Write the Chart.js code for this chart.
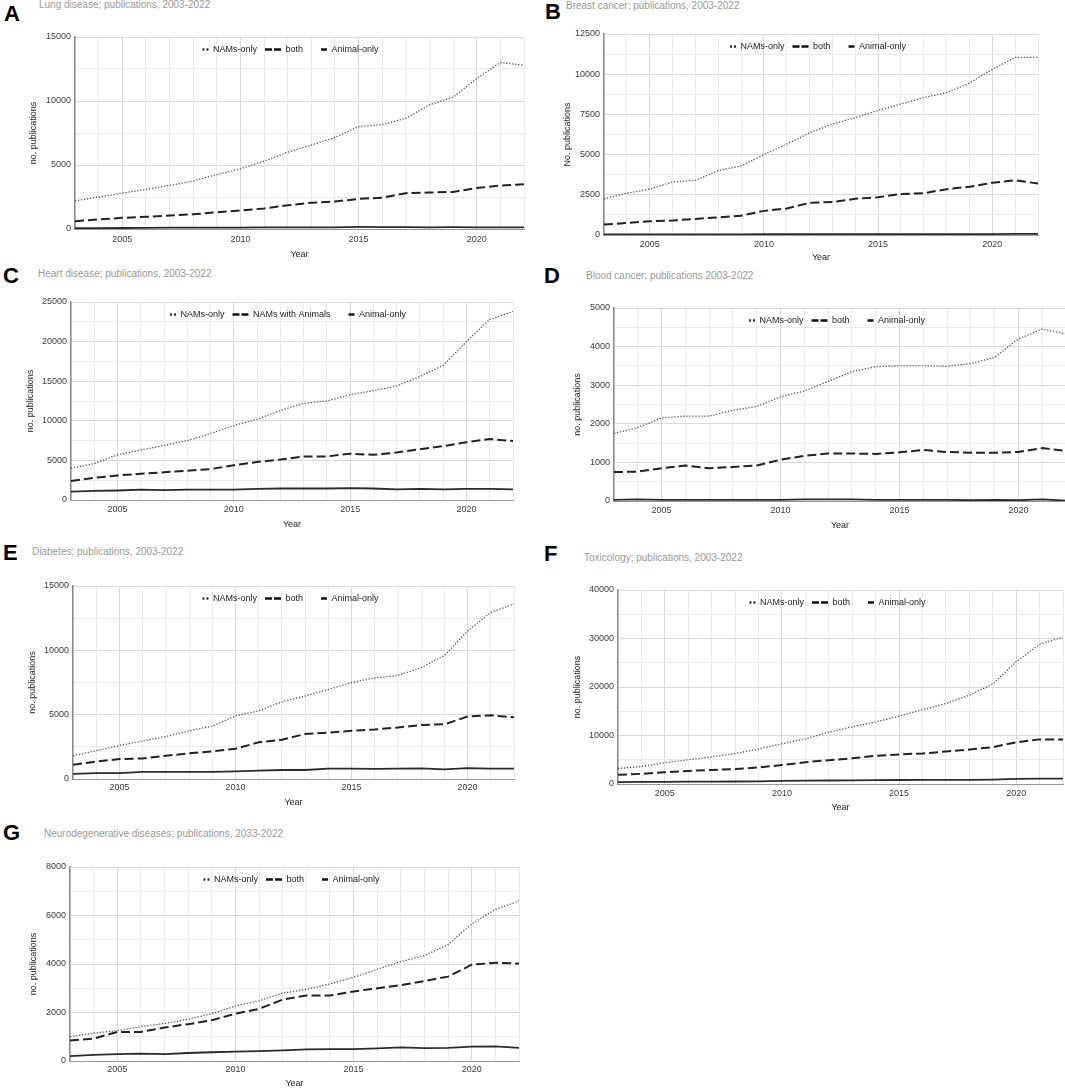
<!DOCTYPE html>
<html>
<head>
<meta charset="utf-8">
<script src="https://cdn.jsdelivr.net/npm/chart.js@4.4.1/dist/chart.umd.min.js"></script>
<style>
  html, body { margin: 0; padding: 0; background: #fff; overflow: hidden; }
  body { width: 1065px; height: 1088px; position: relative; font-family: Arial, "Liberation Sans", sans-serif; }
  .letter { position: absolute; font-size: 22px; font-weight: bold; line-height: 22px; color: #000; }
  .title { position: absolute; font-size: 10px; line-height: 12px; color: #999; white-space: nowrap; }
  canvas { position: absolute; }
</style>
</head>
<body>
<script>
// Years on the x axis
const years = [2003, 2004, 2005, 2006, 2007, 2008, 2009, 2010, 2011, 2012,
               2013, 2014, 2015, 2016, 2017, 2018, 2019, 2020, 2021, 2022];

const seriesNames = ['NAMs-only', 'both', 'Animal-only'];
const heartSeriesNames = ['NAMs-only', 'NAMs with Animals', 'Animal-only'];

// A - Lung disease
const lungNams   = [2200, 2500, 2800, 3100, 3400, 3750, 4250, 4700, 5300, 6000, 6550, 7150, 8000, 8150, 8650, 9700, 10300, 11750, 13000, 12800];
const lungBoth   = [600, 750, 870, 950, 1050, 1150, 1300, 1450, 1600, 1850, 2050, 2150, 2350, 2450, 2800, 2850, 2900, 3200, 3400, 3500];
const lungAnimal = [60, 70, 80, 90, 100, 100, 110, 110, 120, 120, 130, 130, 160, 150, 140, 130, 140, 130, 120, 120];
const lungTicks  = [0, 5000, 10000, 15000];

// B - Breast cancer
const breastNams   = [2250, 2600, 2850, 3300, 3400, 4000, 4300, 5000, 5650, 6350, 6900, 7300, 7750, 8150, 8550, 8850, 9450, 10300, 11050, 11050];
const breastBoth   = [650, 750, 850, 900, 1000, 1100, 1200, 1500, 1650, 2000, 2050, 2250, 2350, 2550, 2600, 2850, 3000, 3250, 3400, 3200];
const breastAnimal = [40, 40, 40, 40, 40, 40, 40, 50, 50, 50, 50, 50, 50, 60, 60, 60, 60, 60, 70, 70];
const breastTicks  = [0, 2500, 5000, 7500, 10000, 12500];

// C - Heart disease
const heartNams   = [4000, 4600, 5700, 6300, 6900, 7500, 8400, 9400, 10200, 11300, 12200, 12500, 13300, 13800, 14400, 15600, 17000, 20000, 22800, 23800];
const heartBoth   = [2400, 2800, 3100, 3300, 3500, 3700, 3900, 4400, 4800, 5100, 5500, 5500, 5850, 5700, 6000, 6400, 6800, 7300, 7700, 7450];
const heartAnimal = [1050, 1150, 1200, 1300, 1250, 1300, 1300, 1300, 1400, 1450, 1450, 1450, 1500, 1450, 1350, 1400, 1350, 1400, 1400, 1350];
const heartTicks  = [0, 5000, 10000, 15000, 20000, 25000];

// D - Blood cancer
const bloodNams   = [1750, 1900, 2150, 2200, 2200, 2350, 2450, 2700, 2850, 3100, 3350, 3480, 3500, 3500, 3490, 3560, 3720, 4200, 4450, 4330];
const bloodBoth   = [750, 760, 850, 920, 850, 880, 920, 1070, 1170, 1230, 1230, 1220, 1260, 1320, 1270, 1250, 1250, 1270, 1370, 1300];
const bloodAnimal = [30, 40, 30, 30, 30, 30, 30, 30, 40, 40, 40, 30, 30, 30, 30, 20, 30, 20, 40, 10];
const bloodTicks  = [0, 1000, 2000, 3000, 4000, 5000];

// E - Diabetes
const diabetesNams   = [1800, 2200, 2600, 2950, 3300, 3750, 4100, 4900, 5300, 6000, 6450, 6950, 7500, 7850, 8050, 8650, 9600, 11500, 12950, 13600];
const diabetesBoth   = [1100, 1350, 1550, 1600, 1800, 2000, 2150, 2350, 2850, 3050, 3500, 3600, 3750, 3850, 4000, 4200, 4250, 4850, 4950, 4800];
const diabetesAnimal = [400, 450, 450, 550, 550, 550, 550, 600, 650, 700, 700, 800, 800, 780, 800, 820, 750, 850, 800, 800];
const diabetesTicks  = [0, 5000, 10000, 15000];

// F - Toxicology
const toxNams   = [3200, 3600, 4400, 5000, 5600, 6300, 7200, 8300, 9300, 10700, 11800, 12800, 14000, 15300, 16600, 18300, 20600, 25200, 28800, 30300];
const toxBoth   = [1900, 2100, 2400, 2700, 2900, 3100, 3400, 3900, 4500, 4900, 5300, 5800, 6100, 6300, 6700, 7100, 7600, 8600, 9200, 9200];
const toxAnimal = [400, 430, 450, 480, 500, 520, 550, 650, 680, 720, 760, 800, 820, 830, 850, 850, 900, 1050, 1100, 1100];
const toxTicks  = [0, 10000, 20000, 30000, 40000];

// G - Neurodegenerative diseases
const neuroNams   = [1000, 1150, 1250, 1420, 1550, 1720, 1950, 2270, 2480, 2800, 2950, 3180, 3450, 3780, 4100, 4350, 4800, 5650, 6250, 6600];
const neuroBoth   = [850, 920, 1200, 1200, 1380, 1520, 1680, 1950, 2150, 2530, 2700, 2700, 2870, 3000, 3130, 3300, 3480, 3970, 4050, 4020];
const neuroAnimal = [200, 250, 280, 300, 280, 330, 360, 390, 410, 440, 480, 490, 490, 520, 560, 530, 540, 590, 600, 540];
const neuroTicks  = [0, 2000, 4000, 6000, 8000];

Chart.defaults.font.family = 'Arial, "Liberation Sans", sans-serif';
Chart.defaults.animation = false;

// Line look per series (dotted / dashed / solid)
const lineStyles = [
    { borderColor: '#555', borderWidth: 1.3, borderDash: [1.3, 1.7] },
    { borderColor: '#222', borderWidth: 2, borderDash: [9, 4] },
    { borderColor: '#2a2a2a', borderWidth: 1.8, borderDash: [] }
];
// Small legend marks: two dots, two dashes, one short dash
const legendMarks = [
    { lineDash: [2, 2, 2, 10], lineDashOffset: 6, lineWidth: 2.5, strokeStyle: '#333' },
    { lineDash: [7, 2], lineDashOffset: 0, lineWidth: 2.5, strokeStyle: '#111' },
    { lineDash: [6, 10], lineDashOffset: 6, lineWidth: 2.5, strokeStyle: '#111' }
];

// Legend sits inside the plot, in one row near the top centre
const rowLegendInside = {
    id: 'rowLegendInside',
    afterInit(chart) {
        if (chart.legend) chart.legend.isHorizontal = () => true;
    },
    afterLayout(chart, args, opts) {
        const lg = chart.legend;
        if (!lg) return;
        const shift = opts.shift || 0;
        lg.left = chart.chartArea.left;
        lg.right = chart.chartArea.right + 2 * shift;
        lg.top = chart.chartArea.top;
    }
};

const panels = [
    { letter: 'A', letterPos: [4, 6], title: 'Lung disease; publications, 2003-2022', titlePos: [39, 4.5],
      yTitle: 'no. publications', yTitleX: 34, plot: [75, 37, 525, 229], labelY: 239, yearY: 255, legendShift: -14,
      names: seriesNames, series: [lungNams, lungBoth, lungAnimal], ticks: lungTicks },
    { letter: 'B', letterPos: [545, 4], title: 'Breast cancer; publications, 2003-2022', titlePos: [566, 6],
      yTitle: 'No. publications', yTitleX: 568, plot: [604, 34, 1038, 235], labelY: 244, yearY: 258, legendShift: -8,
      names: seriesNames, series: [breastNams, breastBoth, breastAnimal], ticks: breastTicks },
    { letter: 'C', letterPos: [3, 268], title: 'Heart disease; publications, 2003-2022', titlePos: [38, 274],
      yTitle: 'no. publications', yTitleX: 31, plot: [71, 302, 513, 500], labelY: 509, yearY: 525, legendShift: -9,
      names: heartSeriesNames, series: [heartNams, heartBoth, heartAnimal], ticks: heartTicks },
    { letter: 'D', letterPos: [544, 268], title: 'Blood cancer; publications 2003-2022', titlePos: [586, 276],
      yTitle: 'no. publications', yTitleX: 578, plot: [614, 308, 1066, 501], labelY: 510, yearY: 526, legendShift: -8,
      names: seriesNames, series: [bloodNams, bloodBoth, bloodAnimal], ticks: bloodTicks },
    { letter: 'E', letterPos: [3, 545], title: 'Diabetes; publications, 2003-2022', titlePos: [32, 552],
      yTitle: 'no. publications', yTitleX: 33, plot: [73, 586, 514, 779], labelY: 787, yearY: 803, legendShift: -8,
      names: seriesNames, series: [diabetesNams, diabetesBoth, diabetesAnimal], ticks: diabetesTicks },
    { letter: 'F', letterPos: [544, 546], title: 'Toxicology; publications, 2003-2022', titlePos: [584, 558],
      yTitle: 'no. publications', yTitleX: 578, plot: [618, 590, 1063, 784], labelY: 793, yearY: 808, legendShift: -8,
      names: seriesNames, series: [toxNams, toxBoth, toxAnimal], ticks: toxTicks },
    { letter: 'G', letterPos: [3, 825], title: 'Neurodegenerative diseases; publications, 2033-2022', titlePos: [44, 834],
      yTitle: 'no. publications', yTitleX: 34, plot: [70, 867, 519, 1061], labelY: 1069, yearY: 1084, legendShift: -8,
      names: seriesNames, series: [neuroNams, neuroBoth, neuroAnimal], ticks: neuroTicks }
];

function addText(cls, text, x, y) {
    const el = document.createElement('div');
    el.className = cls;
    el.textContent = text;
    el.style.left = x + 'px';
    el.style.top = y + 'px';
    document.body.appendChild(el);
}

function makePanel(p) {
    addText('letter', p.letter, p.letterPos[0], p.letterPos[1] - 3);
    addText('title', p.title, p.titlePos[0], p.titlePos[1] - 6);

    const [pl, pt, pr, pb] = p.plot;
    const cl = Math.round(p.yTitleX - 8);
    const ct = Math.round(pt - 10);
    const cr = Math.round(pr + 4);
    const cb = Math.round(p.yearY + 8);
    const yw = pl - cl;
    const xh = cb - pb;

    const canvas = document.createElement('canvas');
    canvas.width = cr - cl;
    canvas.height = cb - ct;
    canvas.style.left = cl + 'px';
    canvas.style.top = ct + 'px';
    document.body.appendChild(canvas);

    const major = p.ticks[1] - p.ticks[0];
    const ymax = p.ticks[p.ticks.length - 1];

    new Chart(canvas, {
        type: 'line',
        data: {
            labels: years,
            datasets: p.series.map((vals, i) => ({
                label: p.names[i],
                data: vals,
                ...lineStyles[i],
                borderCapStyle: 'butt',
                pointRadius: 0,
                pointHoverRadius: 0,
                tension: 0,
                fill: false
            }))
        },
        plugins: [rowLegendInside],
        options: {
            responsive: false,
            layout: { padding: { top: pt - ct, right: cr - pr, left: 0, bottom: 0 } },
            plugins: {
                tooltip: { enabled: false },
                rowLegendInside: { shift: p.legendShift },
                legend: {
                    position: 'chartArea',
                    align: 'center',
                    labels: {
                        usePointStyle: true,
                        pointStyleWidth: 16,
                        padding: 8,
                        color: '#222',
                        font: { size: 9 },
                        generateLabels(chart) {
                            const items = Chart.defaults.plugins.legend.labels.generateLabels(chart);
                            items.forEach((it, i) => {
                                Object.assign(it, legendMarks[i]);
                                it.pointStyle = 'line';
                                it.fillStyle = 'transparent';
                            });
                            return items;
                        }
                    }
                }
            },
            scales: {
                x: {
                    type: 'category',
                    offset: false,
                    grid: {
                        drawTicks: false,
                        color: c => (years[c.index] % 5 === 0 ? '#d8d8d8' : '#eaeaea')
                    },
                    border: { color: '#9a9a9a', width: 1 },
                    ticks: {
                        autoSkip: false,
                        maxRotation: 0,
                        padding: p.labelY - pb - 5,
                        color: '#3a3a3a',
                        font: { size: 9 },
                        callback(v) {
                            const yr = this.getLabelForValue(v);
                            return yr % 5 === 0 ? String(yr) : '';
                        }
                    },
                    title: { display: true, text: 'Year', color: '#222', font: { size: 9 }, padding: { top: 0, bottom: 2.6 } },
                    afterFit: s => { s.height = xh; }
                },
                y: {
                    min: 0,
                    max: ymax,
                    grid: {
                        drawTicks: false,
                        color: c => (c.tick && c.tick.value % major === 0 ? '#d8d8d8' : '#eaeaea')
                    },
                    border: { color: '#8a8a8a', width: 1.5 },
                    ticks: {
                        stepSize: major / 2,
                        padding: 4,
                        color: '#3a3a3a',
                        font: { size: 9 },
                        callback: v => (v % major === 0 ? String(v) : '')
                    },
                    title: { display: true, text: p.yTitle, color: '#222', font: { size: 9 }, padding: { top: 2.6, bottom: 0 } },
                    afterFit: s => { s.width = yw; }
                }
            }
        }
    });
}

panels.forEach(makePanel);
</script>
</body>
</html>
